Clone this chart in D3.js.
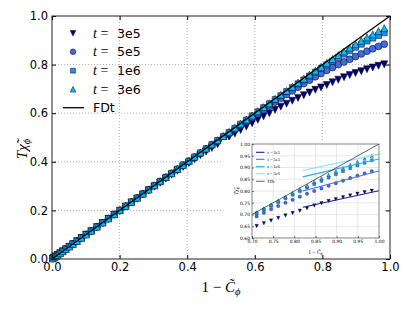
<!DOCTYPE html>
<html>
<head>
<meta charset="utf-8">
<script src="https://cdn.jsdelivr.net/npm/d3@7"></script>
<style>
  body { margin: 0; background: #fff; }
  text { font-family: "DejaVu Sans", sans-serif; }
  .math { font-family: "Liberation Serif", "DejaVu Serif", serif; }
</style>
</head>
<body>
<div id="chart"></div>
<script>
// ---------- data ----------
const xs = [0.002, 0.006, 0.011, 0.017, 0.024, 0.032, 0.041, 0.051, 0.062, 0.074, 0.087, 0.101, 0.116,
    0.133, 0.150, 0.167, 0.184, 0.201, 0.218, 0.235, 0.252, 0.269, 0.286,
    0.303, 0.320, 0.337, 0.354, 0.371, 0.388, 0.405, 0.422, 0.439, 0.456, 0.473, 0.490,
    0.507, 0.524, 0.541, 0.558, 0.575, 0.592, 0.609, 0.626, 0.643,
    0.660, 0.677, 0.694, 0.711, 0.728, 0.745, 0.762, 0.779, 0.796, 0.813, 0.830,
    0.847, 0.864, 0.881, 0.898, 0.915, 0.932, 0.949, 0.966, 0.983];

const y3e5 = [0.002, 0.006, 0.011, 0.017, 0.024, 0.032, 0.040, 0.050, 0.061, 0.073, 0.086, 0.100, 0.114,
    0.131, 0.148, 0.165, 0.182, 0.198, 0.215, 0.232, 0.248, 0.265, 0.282,
    0.298, 0.314, 0.331, 0.347, 0.363, 0.379, 0.395, 0.411, 0.427, 0.442, 0.457, 0.472,
    0.487, 0.502, 0.516, 0.531, 0.545, 0.559, 0.573, 0.587, 0.600,
    0.614, 0.627, 0.639, 0.651, 0.663, 0.674, 0.685, 0.696, 0.706, 0.716, 0.727,
    0.738, 0.748, 0.757, 0.765, 0.773, 0.781, 0.788, 0.795, 0.801];

const y5e5 = [0.002, 0.006, 0.011, 0.017, 0.024, 0.032, 0.041, 0.051, 0.062, 0.074, 0.087, 0.101, 0.115,
    0.132, 0.149, 0.166, 0.183, 0.200, 0.217, 0.234, 0.251, 0.268, 0.285,
    0.302, 0.319, 0.336, 0.352, 0.369, 0.386, 0.402, 0.419, 0.435, 0.452, 0.468, 0.485,
    0.501, 0.517, 0.533, 0.550, 0.566, 0.582, 0.598, 0.614, 0.630,
    0.646, 0.662, 0.677, 0.692, 0.707, 0.722, 0.736, 0.750, 0.763, 0.776, 0.788,
    0.800, 0.811, 0.822, 0.833, 0.844, 0.855, 0.865, 0.875, 0.884];

const y1e6 = [0.002, 0.006, 0.011, 0.017, 0.024, 0.032, 0.041, 0.051, 0.062, 0.074, 0.087, 0.101, 0.116,
    0.133, 0.150, 0.167, 0.184, 0.201, 0.218, 0.235, 0.251, 0.268, 0.285,
    0.302, 0.319, 0.336, 0.353, 0.370, 0.387, 0.403, 0.420, 0.437, 0.454, 0.471, 0.488,
    0.505, 0.521, 0.538, 0.555, 0.572, 0.589, 0.606, 0.623, 0.639,
    0.656, 0.672, 0.689, 0.705, 0.721, 0.737, 0.753, 0.769, 0.784, 0.799, 0.814,
    0.829, 0.843, 0.857, 0.871, 0.884, 0.897, 0.909, 0.920, 0.931];

const y3e6 = [0.002, 0.006, 0.011, 0.017, 0.024, 0.032, 0.041, 0.051, 0.062, 0.074, 0.087, 0.101, 0.116,
    0.133, 0.150, 0.167, 0.184, 0.201, 0.218, 0.235, 0.252, 0.269, 0.286,
    0.303, 0.320, 0.337, 0.353, 0.370, 0.387, 0.404, 0.421, 0.438, 0.455, 0.472, 0.489,
    0.506, 0.523, 0.540, 0.557, 0.574, 0.591, 0.608, 0.625, 0.641,
    0.659, 0.676, 0.692, 0.709, 0.726, 0.742, 0.759, 0.775, 0.791, 0.807, 0.823,
    0.839, 0.854, 0.869, 0.884, 0.898, 0.912, 0.925, 0.938, 0.950];

// FDT reference line
const fdtX = [0, 1];
const fdtY = [0, 1];

// fitted lines shown in the inset
const fitX = [0.82, 1.0];
const fit3e5 = [0.731, 0.801];
const fit5e5 = [0.800, 0.885];
const fit1e6 = [0.860, 0.936];
const fit3e6 = [0.887, 0.957];

const seriesNames = ["3e5", "5e5", "1e6", "3e6"];
const mainTicks = [0, 0.2, 0.4, 0.6, 0.8, 1.0];
const insetXTicks = [0.70, 0.75, 0.80, 0.85, 0.90, 0.95, 1.00];
const insetYTicks = [0.60, 0.65, 0.70, 0.75, 0.80, 0.85, 0.90, 0.95, 1.00];

// ---------- styles ----------
const markerColor = { "3e5": "#000080", "5e5": "#4169e1", "1e6": "#1e90ff", "3e6": "#00bfff" };
const lineColor = { "3e5": "#1c1c8c", "5e5": "#4a6fe3", "1e6": "#22aaff", "3e6": "#8fdcff" };

const triDown = {
    draw(ctx, size) {
        const r = Math.sqrt(size) / 2;
        ctx.moveTo(-r, -r); ctx.lineTo(r, -r); ctx.lineTo(0, r); ctx.closePath();
    }
};
const triUp = {
    draw(ctx, size) {
        const r = Math.sqrt(size) / 2;
        ctx.moveTo(-r, r); ctx.lineTo(r, r); ctx.lineTo(0, -r); ctx.closePath();
    }
};
const markerType = { "3e5": triDown, "5e5": d3.symbolCircle, "1e6": d3.symbolSquare, "3e6": triUp };
const markerSize = { "3e5": 49, "5e5": 38, "1e6": 36, "3e6": 49 };

const series = [
    { key: "3e5", ys: y3e5, fit: fit3e5 },
    { key: "5e5", ys: y5e5, fit: fit5e5 },
    { key: "1e6", ys: y1e6, fit: fit1e6 },
    { key: "3e6", ys: y3e6, fit: fit3e6 }
];

// ---------- main axes ----------
const margin = { top: 16, right: 21, bottom: 50, left: 52 };
const width = 411 - margin.left - margin.right;
const height = 309 - margin.top - margin.bottom;

const root = d3.select("#chart")
    .append("svg")
    .attr("width", 411)
    .attr("height", 309);

const svg = root.append("g")
    .attr("transform", `translate(${margin.left}, ${margin.top})`);

const x = d3.scaleLinear().domain([0, 1]).range([0, width]);
const y = d3.scaleLinear().domain([0, 1]).range([height, 0]);

// dotted grid
svg.append("g")
    .selectAll("line")
    .data(mainTicks.slice(1, -1))
    .enter()
    .append("line")
    .attr("x1", d => x(d)).attr("x2", d => x(d))
    .attr("y1", 0).attr("y2", height)
    .attr("stroke", "#999").attr("stroke-width", 0.8).attr("stroke-dasharray", "1,2");
svg.append("g")
    .selectAll("line")
    .data(mainTicks.slice(1, -1))
    .enter()
    .append("line")
    .attr("y1", d => y(d)).attr("y2", d => y(d))
    .attr("x1", 0).attr("x2", width)
    .attr("stroke", "#999").attr("stroke-width", 0.8).attr("stroke-dasharray", "1,2");

// markers
svg.append("clipPath").attr("id", "mainclip")
    .append("rect").attr("x", -4).attr("y", -4).attr("width", width + 8).attr("height", height + 8);

svg.append("g")
    .attr("clip-path", "url(#mainclip)")
    .selectAll("g")
    .data(series)
    .enter()
    .append("g")
    .attr("fill", d => markerColor[d.key])
    .each(function (s) {
        d3.select(this).selectAll("path")
            .data(xs.map((v, i) => [v, s.ys[i]]))
            .enter()
            .append("path")
            .attr("d", d3.symbol().type(markerType[s.key]).size(markerSize[s.key]))
            .attr("transform", d => `translate(${x(d[0])}, ${y(d[1])})`)
            .attr("stroke", "#000")
            .attr("stroke-width", 0.5);
    });

// FDT line
svg.append("path")
    .datum(fdtX.map((v, i) => [v, fdtY[i]]))
    .attr("d", d3.line().x(d => x(d[0])).y(d => y(d[1])))
    .attr("stroke", "#000").attr("stroke-width", 1.3).attr("fill", "none");

// axes: inward ticks on all sides
const fmt1 = d3.format(".1f");
svg.append("g")
    .attr("transform", `translate(0, ${height})`)
    .call(d3.axisBottom(x).tickValues(mainTicks).tickFormat(fmt1).tickSizeInner(-4).tickSizeOuter(0).tickPadding(4))
    .call(g => g.select(".domain").remove())
    .call(g => g.selectAll("text").attr("font-size", "11.5px").attr("fill", "#000").attr("font-family", "DejaVu Sans"));
svg.append("g")
    .call(d3.axisLeft(y).tickValues(mainTicks).tickFormat(fmt1).tickSizeInner(-4).tickSizeOuter(0).tickPadding(4))
    .call(g => g.select(".domain").remove())
    .call(g => g.selectAll("text").attr("font-size", "11.5px").attr("fill", "#000").attr("font-family", "DejaVu Sans"));
svg.append("g")
    .call(d3.axisTop(x).tickValues(mainTicks).tickFormat("").tickSizeInner(-4).tickSizeOuter(0))
    .call(g => g.select(".domain").remove());
svg.append("g")
    .attr("transform", `translate(${width}, 0)`)
    .call(d3.axisRight(y).tickValues(mainTicks).tickFormat("").tickSizeInner(-4).tickSizeOuter(0))
    .call(g => g.select(".domain").remove());

svg.append("rect")
    .attr("width", width).attr("height", height)
    .attr("fill", "none").attr("stroke", "#222").attr("stroke-width", 1);

// axis labels
const xl = root.append("text")
    .attr("class", "math")
    .attr("x", margin.left + width / 2)
    .attr("y", 292)
    .attr("text-anchor", "middle")
    .attr("font-size", "15px");
xl.append("tspan").text("1 \u2212 ");
xl.append("tspan").attr("font-style", "italic").text("C\u0303");
xl.append("tspan").attr("font-style", "italic").attr("font-size", "10.5px").attr("dy", 3).text("\u03d5");

const yl = root.append("text")
    .attr("class", "math")
    .attr("transform", "translate(27, 149) rotate(-90)")
    .attr("text-anchor", "middle")
    .attr("font-size", "15px");
yl.append("tspan").attr("font-style", "italic").text("T\u03c7\u0303");
yl.append("tspan").attr("font-style", "italic").attr("font-size", "10.5px").attr("dy", 3).text("\u03d5");

// ---------- main legend ----------
const legendRows = [33.3, 51.7, 70.7, 89.3];
const legend = root.append("g")
    .selectAll("g")
    .data(series)
    .enter()
    .append("g")
    .attr("transform", (d, i) => `translate(0, ${legendRows[i]})`);

legend.append("path")
    .attr("d", d => d3.symbol().type(markerType[d.key]).size(markerSize[d.key] * 0.65)())
    .attr("transform", "translate(73, 0)")
    .attr("fill", d => markerColor[d.key])
    .attr("stroke", "#000").attr("stroke-width", 0.5);

const lt = legend.append("text").attr("y", 4.5);
lt.append("tspan").attr("class", "math").attr("font-style", "italic").attr("font-size", "14px").attr("x", 93).text("t");
lt.append("tspan").attr("class", "math").attr("font-size", "14px").attr("x", 100.5).text("=");
lt.append("tspan").attr("font-size", "12.5px").attr("x", 117).text(d => d.key);

root.append("line")
    .attr("x1", 63).attr("x2", 84).attr("y1", 107.7).attr("y2", 107.7)
    .attr("stroke", "#000").attr("stroke-width", 1.3);
root.append("text")
    .attr("x", 93).attr("y", 112.2)
    .attr("font-size", "12.5px")
    .text("FDt");

// ---------- inset ----------
const inset = { left: 252, top: 144, width: 127, height: 94 };
const ix = d3.scaleLinear().domain([0.7, 1.0]).range([0, inset.width]);
const iy = d3.scaleLinear().domain([0.6, 1.0]).range([inset.height, 0]);

const ig = root.append("g")
    .attr("transform", `translate(${inset.left}, ${inset.top})`);

ig.append("rect")
    .attr("x", -30).attr("y", -4).attr("width", inset.width + 34).attr("height", inset.height + 20)
    .attr("fill", "#fff");

// solid grid
ig.append("g")
    .selectAll("line")
    .data(insetXTicks.slice(1, -1))
    .enter()
    .append("line")
    .attr("x1", d => ix(d)).attr("x2", d => ix(d))
    .attr("y1", 0).attr("y2", inset.height)
    .attr("stroke", "#d0d0d0").attr("stroke-width", 0.5);
ig.append("g")
    .selectAll("line")
    .data(insetYTicks.slice(1, -1))
    .enter()
    .append("line")
    .attr("y1", d => iy(d)).attr("y2", d => iy(d))
    .attr("x1", 0).attr("x2", inset.width)
    .attr("stroke", "#d0d0d0").attr("stroke-width", 0.5);

ig.append("clipPath").attr("id", "insetclip")
    .append("rect").attr("width", inset.width).attr("height", inset.height);

const iplot = ig.append("g").attr("clip-path", "url(#insetclip)");

// inset markers
iplot.append("g")
    .selectAll("g")
    .data(series)
    .enter()
    .append("g")
    .attr("fill", d => markerColor[d.key])
    .each(function (s) {
        d3.select(this).selectAll("path")
            .data(xs.map((v, i) => [v, s.ys[i]]).filter(d => d[0] >= 0.69))
            .enter()
            .append("path")
            .attr("d", d3.symbol().type(markerType[s.key]).size(markerSize[s.key] * 0.25))
            .attr("transform", d => `translate(${ix(d[0])}, ${iy(d[1])})`)
            .attr("stroke", "#000")
            .attr("stroke-width", 0.25);
    });

// inset fitted lines
const iline = d3.line().x(d => ix(d[0])).y(d => iy(d[1]));
iplot.append("g")
    .selectAll("path")
    .data(series)
    .enter()
    .append("path")
    .attr("d", d => iline(fitX.map((v, i) => [v, d.fit[i]])))
    .attr("stroke", d => lineColor[d.key])
    .attr("stroke-width", 1.1)
    .attr("fill", "none");

iplot.append("path")
    .attr("d", iline(fdtX.map((v, i) => [v, fdtY[i]])))
    .attr("stroke", "#222").attr("stroke-width", 0.7).attr("fill", "none");

// inset axes
const fmt2 = d3.format(".2f");
ig.append("g")
    .attr("transform", `translate(0, ${inset.height})`)
    .call(d3.axisBottom(ix).tickValues(insetXTicks).tickFormat(fmt2).tickSizeInner(-2).tickSizeOuter(0).tickPadding(2))
    .call(g => g.select(".domain").remove())
    .call(g => g.selectAll("line").attr("stroke-width", 0.5))
    .call(g => g.selectAll("text").attr("font-size", "4.5px").attr("fill", "#000").attr("font-family", "DejaVu Sans"));
ig.append("g")
    .call(d3.axisLeft(iy).tickValues(insetYTicks).tickFormat(fmt2).tickSizeInner(-2).tickSizeOuter(0).tickPadding(2))
    .call(g => g.select(".domain").remove())
    .call(g => g.selectAll("line").attr("stroke-width", 0.5))
    .call(g => g.selectAll("text").attr("font-size", "4.5px").attr("fill", "#000").attr("font-family", "DejaVu Sans"));

ig.append("rect")
    .attr("width", inset.width).attr("height", inset.height)
    .attr("fill", "none").attr("stroke", "#333").attr("stroke-width", 0.6);

// inset axis labels
const ixl = ig.append("text")
    .attr("class", "math")
    .attr("x", inset.width / 2).attr("y", 110)
    .attr("text-anchor", "middle")
    .attr("font-size", "5.5px");
ixl.append("tspan").text("1 \u2212 ");
ixl.append("tspan").attr("font-style", "italic").text("C\u0303");
ixl.append("tspan").attr("font-style", "italic").attr("font-size", "4px").attr("dy", 1).text("\u03d5");

const iyl = ig.append("text")
    .attr("class", "math")
    .attr("transform", `translate(-14, ${inset.height / 2}) rotate(-90)`)
    .attr("text-anchor", "middle")
    .attr("font-size", "5.5px");
iyl.append("tspan").attr("font-style", "italic").text("T\u03c7\u0303");
iyl.append("tspan").attr("font-style", "italic").attr("font-size", "4px").attr("dy", 1).text("\u03d5");

// inset legend (lines only)
const insetRows = [8.3, 15.3, 22.7, 29.7, 37.3];
const ilegend = ig.append("g")
    .selectAll("g")
    .data(series.map(d => ({ key: d.key, color: lineColor[d.key], label: "t = " + d.key }))
        .concat([{ key: "FDt", color: "#222", label: "FDt" }]))
    .enter()
    .append("g")
    .attr("transform", (d, i) => `translate(0, ${insetRows[i]})`);

ilegend.append("line")
    .attr("x1", 4).attr("x2", 12.5)
    .attr("stroke", d => d.color)
    .attr("stroke-width", d => d.key === "FDt" ? 0.7 : 1.1);
ilegend.append("text")
    .attr("class", "math")
    .attr("x", 15.5).attr("y", 1.6)
    .attr("font-size", "4.5px")
    .text(d => d.label);
</script>
</body>
</html>
